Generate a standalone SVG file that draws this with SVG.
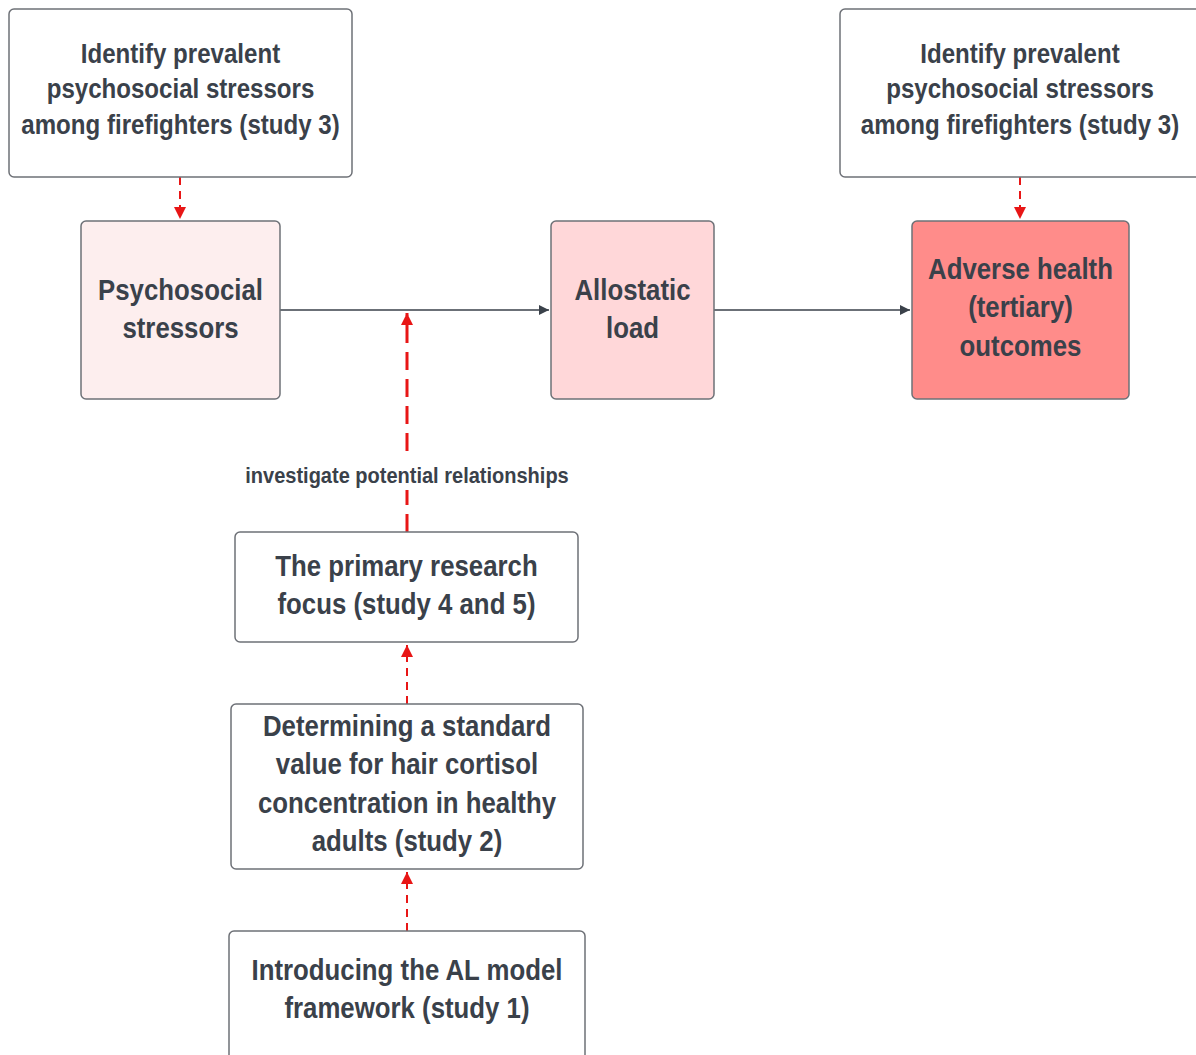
<svg xmlns="http://www.w3.org/2000/svg" width="1196" height="1055" viewBox="0 0 1196 1055">
<style>
.box{stroke:#6e7177;stroke-width:1.5}
.t{font-family:"Liberation Sans",Arial,sans-serif;font-weight:bold;fill:#3a414a;text-anchor:middle}
.f28{font-size:28px}
.f30{font-size:30px}
.f22{font-size:22px}
.solid{stroke:#3a414a;stroke-width:1.5;fill:none}
.red{stroke:#e81616;stroke-width:2;fill:none;stroke-dasharray:8 6}
.redb{stroke:#e81616;stroke-width:3;fill:none;stroke-dasharray:18 9}
</style>
<defs>
<marker id="ag" viewBox="0 0 10 10" refX="10" refY="5" markerWidth="10" markerHeight="10" markerUnits="userSpaceOnUse" orient="auto"><path d="M0,0 L10,5 L0,10 z" fill="#3a414a"/></marker>
<marker id="ar" viewBox="0 0 10 10" refX="10" refY="5" markerWidth="12" markerHeight="12" markerUnits="userSpaceOnUse" orient="auto"><path d="M0,0 L10,5 L0,10 z" fill="#e81616"/></marker>
</defs>
<rect width="1196" height="1055" fill="#ffffff"/>
<g id="connectors">
<path class="solid" d="M280,310 H549" marker-end="url(#ag)"/>
<path class="solid" d="M714,310 H910" marker-end="url(#ag)"/>
<path class="red" d="M180,177 V219" marker-end="url(#ar)"/>
<path class="red" d="M1020,177 V219" marker-end="url(#ar)"/>
<path class="redb" d="M407,532 V313" marker-end="url(#ar)"/>
<path class="red" d="M407,704 V645" marker-end="url(#ar)"/>
<path class="red" d="M407,931 V872" marker-end="url(#ar)"/>
<rect x="240" y="459" width="334" height="31" fill="#ffffff"/>
<text class="t f22" transform="translate(407,0) scale(0.91,1)" x="0" y="483">investigate potential relationships</text>
</g>
<g id="stressors-study3-left">
<rect class="box" x="9" y="9" width="343" height="168" rx="5" fill="#ffffff"/>
<g class="t f28" transform="translate(180.5,0) scale(0.86,1)">
<text x="0" y="63">Identify prevalent</text>
<text x="0" y="98">psychosocial stressors</text>
<text x="0" y="134">among firefighters (study 3)</text>
</g>
</g>
<g id="stressors-study3-right">
<rect class="box" x="840" y="9" width="360" height="168" rx="5" fill="#ffffff"/>
<g class="t f28" transform="translate(1020,0) scale(0.86,1)">
<text x="0" y="63">Identify prevalent</text>
<text x="0" y="98">psychosocial stressors</text>
<text x="0" y="134">among firefighters (study 3)</text>
</g>
</g>
<g id="psychosocial">
<rect class="box" x="81" y="221" width="199" height="178" rx="5" fill="#fdeeee"/>
<g class="t f30" transform="translate(180.5,0) scale(0.86,1)">
<text x="0" y="300">Psychosocial</text>
<text x="0" y="338">stressors</text>
</g>
</g>
<g id="allostatic">
<rect class="box" x="551" y="221" width="163" height="178" rx="5" fill="#ffd7d9"/>
<g class="t f30" transform="translate(632.5,0) scale(0.86,1)">
<text x="0" y="300">Allostatic</text>
<text x="0" y="338">load</text>
</g>
</g>
<g id="adverse">
<rect class="box" x="912" y="221" width="217" height="178" rx="5" fill="#ff8c8a"/>
<g class="t f30" transform="translate(1020.5,0) scale(0.86,1)">
<text x="0" y="279">Adverse health</text>
<text x="0" y="317">(tertiary)</text>
<text x="0" y="356">outcomes</text>
</g>
</g>
<g id="primary">
<rect class="box" x="235" y="532" width="343" height="110" rx="5" fill="#ffffff"/>
<g class="t f30" transform="translate(406.5,0) scale(0.86,1)">
<text x="0" y="576">The primary research</text>
<text x="0" y="614">focus (study 4 and 5)</text>
</g>
</g>
<g id="determining">
<rect class="box" x="231" y="704" width="352" height="165" rx="5" fill="#ffffff"/>
<g class="t f30" transform="translate(407,0) scale(0.86,1)">
<text x="0" y="736">Determining a standard</text>
<text x="0" y="774">value for hair cortisol</text>
<text x="0" y="813">concentration in healthy</text>
<text x="0" y="851">adults (study 2)</text>
</g>
</g>
<g id="introducing">
<rect class="box" x="229" y="931" width="356" height="135" rx="5" fill="#ffffff"/>
<g class="t f30" transform="translate(407,0) scale(0.86,1)">
<text x="0" y="980">Introducing the AL model</text>
<text x="0" y="1018">framework (study 1)</text>
</g>
</g>
</svg>
